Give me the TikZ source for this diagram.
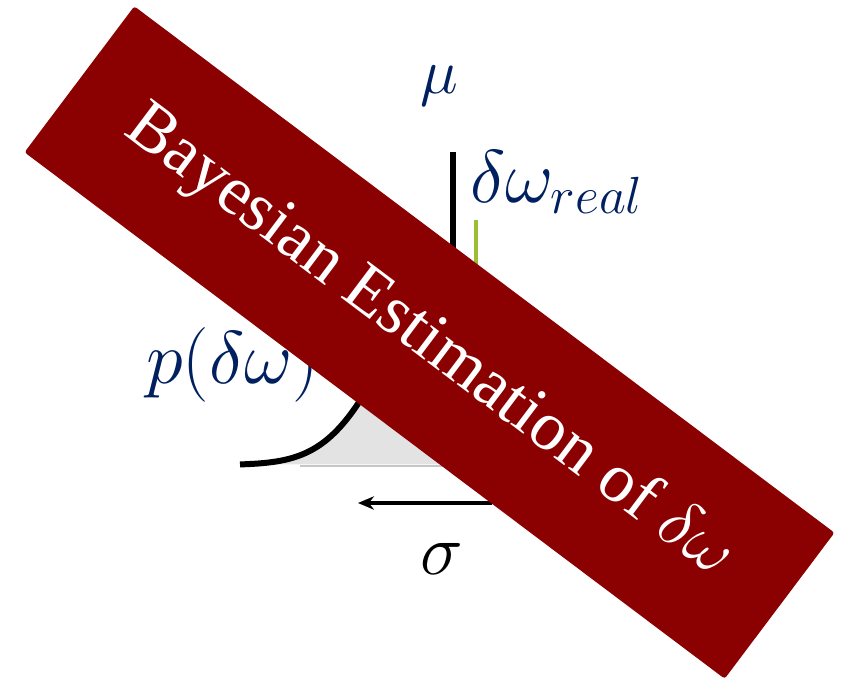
\RequirePackage{fix-cm}
\documentclass[tikz,border=0pt]{standalone}
\usepackage{fontspec}
\setmainfont{Liberation Serif}
\usetikzlibrary{arrows.meta,positioning}
\definecolor{bannerred}{RGB}{139,0,0}
\definecolor{labelblue}{RGB}{0,32,96}
\definecolor{realgreen}{RGB}{155,190,50}

\begin{document}
\begin{tikzpicture}[
  x=0.75pt, y=-0.75pt,
  label text/.style={font=\fontsize{56}{66}\selectfont, text=labelblue, inner sep=0pt},
  banner/.style={rectangle, fill=bannerred, text=white, rounded corners=2pt, minimum width=657pt, minimum height=137pt, inner sep=0pt, font=\fontsize{52}{62}\selectfont},
  >=Stealth
]
  \useasboundingbox (0,0) rectangle (851,682);

  % Gaussian curve
  \fill[gray!22] plot[domain=240:670, samples=90] (\x, {465-195*exp(-((\x-453)/88.3)^2)}) -- cycle;
  \draw[gray!45, line width=1.5pt] (300,466) -- (670,466);
  \draw[line width=4.5pt] plot[domain=240:670, samples=90, smooth] (\x, {465-195*exp(-((\x-453)/88.3)^2)});

  % Mean and real value
  \coordinate (mu top) at (453,152);
  \coordinate (mu base) at (453,465);
  \coordinate (real top) at (476,220);
  \coordinate (real base) at (476,465);
  \draw[line width=4.5pt] (mu top) -- (mu base);
  \draw[realgreen, line width=3.5pt] (real top) -- (real base);

  % Width arrow
  \coordinate (sigma start) at (492,503);
  \coordinate (sigma end) at (358,503);
  \draw[-{Stealth[length=12pt, width=10pt]}, line width=3pt] (sigma start) -- (sigma end);

  % Labels
  \node[label text, font=\fontsize{48}{58}\selectfont, anchor=base west] (mu) at (420,93) {$\mu$};
  \node[label text, anchor=base west] (real) at (470,202) {$\delta\omega_{real}$};
  \node[label text, anchor=base west] (prob) at (146,383) {$p(\delta\omega)$};
  \node[label text, font=\fontsize{54}{64}\selectfont, text=black, anchor=base west] (sigma) at (420,574) {$\sigma$};

  % Banner
  \node[banner, rotate=-36.94] (title) at (429.5,342.5) {Bayesian Estimation of $\delta\omega$};
\end{tikzpicture}
\end{document}
